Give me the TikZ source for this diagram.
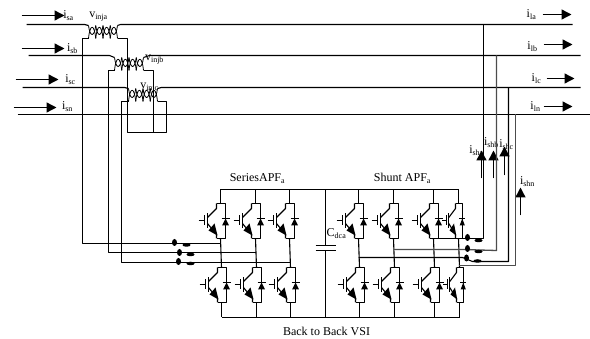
\documentclass[tikz,border=0pt]{standalone}
\usepackage{fontspec}
\setmainfont{Liberation Serif}
\usetikzlibrary{arrows.meta,shapes.geometric}
\tikzstyle{every picture}+=[x=1pt,y=-1pt]
\tikzstyle{every picture}+=[join=round]
\tikzstyle{every picture}+=[cap=butt]
\tikzstyle{every picture}+=[line width=1pt]
\tikzstyle{every picture}+=[>={Triangle[length=10pt,width=10pt]}]
\tikzstyle{wire}=[draw=black,line width=1.1pt]
\tikzstyle{greywire}=[draw=black!70,line width=1.3pt]
\tikzstyle{turn}=[draw=black,line width=.8pt]
\tikzstyle{flow}=[draw=black,line width=1.4pt,->]
\tikzstyle{lbl}=[inner sep=0pt,font=\fontsize{12}{14}\selectfont]
\tikzstyle{blob}=[fill=black,draw=none,ellipse]
\newcommand{\cur}[2]{#1\textsubscript{#2}}
\tikzset{
  igbt/.pic={
    \coordinate (-t) at (0,0);
    \coordinate (-b) at (0,35);
    \draw[wire] (-4,0) -- (5,0) -- (5,35) -- (-4,35);
    \draw[wire] (-4,0) -- (-4,5) -- (-13,14);
    \draw[wire] (-13,20) -- (-4,31) -- (-4,35);
    \draw[wire,line width=1.3pt] (-13,10) -- (-13,25);
    \draw[wire,line width=1.1pt] (-16,12) -- (-16,22);
    \draw[wire] (-22,17) -- (-16,17);
    \fill (-3,32) -- (-12,27) -- (-6,20) -- cycle;
    \fill (5,15) -- (1.5,22) -- (8.5,22) -- cycle;
    \draw[wire] (1,15) -- (9,15);
  },
  coil/.pic={
    \coordinate (-p1) at (0,-5);
    \coordinate (-p2) at (29,-5);
    \coordinate (-s1) at (0,8);
    \coordinate (-s2) at (29,8);
    \foreach \k in {0,1,2,3} {
      \draw[turn] (\k*7.25,-5) .. controls (\k*7.25+1.5,7) and (\k*7.25+5.75,7) .. (\k*7.25+7.25,-5);
      \draw[turn] (\k*7.25,8) .. controls (\k*7.25+1.5,-7) and (\k*7.25+5.75,-7) .. (\k*7.25+7.25,8);
    }
  }
}
\begin{document}
\begin{tikzpicture}[shift={(.5,.5)}]
\useasboundingbox (-.5,-.5) rectangle (589.5,338.5);

% labels on the mains side
\node[lbl] (vic) at (149,87) {\cur{v}{injc}};
\node[lbl] (isa) at (68,15) {\cur{i}{sa}};
\node[lbl] (isb) at (72,48) {\cur{i}{sb}};
\node[lbl] (isc) at (70,79) {\cur{i}{sc}};
\node[lbl] (isn) at (67,106) {\cur{i}{sn}};
\node[lbl] (via) at (98,16) {\cur{v}{inja}};
\node[lbl] (vib) at (154,59) {\cur{v}{injb}};

% labels on the load side
\node[lbl] (ila) at (531,14) {\cur{i}{la}};
\node[lbl] (ilb) at (532,46) {\cur{i}{lb}};
\node[lbl] (ilc) at (536,78) {\cur{i}{lc}};
\node[lbl] (iln) at (535,106) {\cur{i}{ln}};
\node[lbl] (isha) at (476,150) {\cur{i}{sha}};
\node[lbl] (ishb) at (491,142) {\cur{i}{shb}};
\node[lbl] (ishc) at (506,144) {\cur{i}{shc}};
\node[lbl] (ishn) at (527,181) {\cur{i}{shn}};

\node[lbl] (apfs) at (257,178) {\cur{SeriesAPF}{a}};
\node[lbl] (apfp) at (402,178) {\cur{Shunt APF}{a}};
\node[lbl] (cdc) at (336,233) {\cur{C}{dca}};
\node[lbl] (vsi) at (326,331) {Back to Back VSI};

% current arrows
\foreach \n/\xa/\ya/\xb/\yb in {fa/21/15/64/15,fb/21/48/64/48,fc/15/79/58/79,fd/13/107/56/107,
    fe/542/14/571/14,ff/543/44/572/44,fg/546/78/574/78,fh/543/106/572/106,
    fi/481/178/481/150,fj/493/178/493/150,fk/504/175/504/146,fl/520/215/520/187} {
  \coordinate (\n s) at (\xa,\ya);
  \coordinate (\n e) at (\xb,\yb);
  \draw[flow] (\n s) -- (\n e);
}

% injection transformers
\pic (ta) at (88,30) {coil};
\pic (tb) at (114,62) {coil};
\pic (tc) at (128,93) {coil};

\coordinate (la) at (26,24);
\coordinate (ra) at (572,24);
\coordinate (lb) at (28,55);
\coordinate (rb) at (580,55);
\coordinate (lc) at (22,87);
\coordinate (rc) at (580,87);
\coordinate (ln) at (17,114);
\coordinate (rn) at (590,114);

\draw[wire] (la) -- (84,24) -- (ta-p1);
\draw[wire] (ta-p2) -- (120,24) -- (ra);
\draw[wire] (lb) -- (109,55) -- (tb-p1);
\draw[wire] (tb-p2) -- (149,55) -- (rb);
\draw[wire] (lc) -- (124,87) -- (tc-p1);
\draw[wire] (tc-p2) -- (161,87) -- (rc);
\draw[wire] (ln) -- (rn);

\coordinate (ba) at (127,132);
\coordinate (bb) at (153,132);
\coordinate (bc) at (166,132);
\draw[wire] (ta-s2) -- (120,38) -- (127,38) -- (ba) -- (bb) -- (bc) -- (166,101) -- (160,101) -- (tc-s2);
\draw[wire] (tb-s2) -- (146,70) -- (153,70) -- (bb);

% bridge legs
\coordinate (rtl) at (220,189);
\coordinate (rtr) at (458,189);
\coordinate (rbl) at (221,317);
\coordinate (rbr) at (459,317);
\draw[wire] (rtl) -- (rtr);
\draw[wire] (rbl) -- (rbr);
\foreach \n/\x/\s in {sa/220/1,sb/255/1,sc/289/1,pa/358/1,pb/393/1,pc/433/1,pd/458/.75} {
  \pic[xscale=\s] (\n-u) at (\x,203) {igbt};
  \pic[xscale=\s] (\n-l) at (\x+1,267) {igbt};
  \draw[wire] (\n-u-t |- rtl) -- (\n-u-t);
  \draw[wire] (\n-u-b) -- (\n-l-t);
  \draw[wire] (\n-l-b) -- (\n-l-b |- rbl);
}

% dc link
\coordinate (ca) at (325,245);
\coordinate (cb) at (325,250);
\draw[wire] (ca |- rtl) -- (ca);
\draw[wire] (cb) -- (cb |- rbl);
\draw[wire,line width=1.2pt] (315,245) -- (335,245);
\draw[wire,line width=1.2pt] (315,250) -- (335,250);

% series side wires
\coordinate (wa) at (82,38);
\coordinate (wb) at (108,70);
\coordinate (wc) at (121,101);
\draw[wire] (ta-s1) -- (85,38) -- (wa) -- (82,243) -- (sa-u-b |- 0,243);
\draw[wire] (tb-s1) -- (111,70) -- (wb) -- (108,252) -- (sb-u-b |- 0,252);
\draw[wire] (tc-s1) -- (125,101) -- (wc) -- (121,262) -- (sc-u-b |- 0,262);
\foreach \n/\xa/\ya/\xb/\yb in {ga/174/242/186/244.5,gb/179/252/190/254,gc/178/261/190/263} {
  \node[blob,minimum width=5pt,minimum height=7pt,inner sep=0pt] (\n l) at (\xa,\ya) {};
  \node[blob,minimum width=8pt,minimum height=3.5pt,inner sep=0pt] (\n r) at (\xb,\yb) {};
}

% shunt side wires
\coordinate (xa) at (483,24);
\coordinate (xb) at (496,55);
\coordinate (xc) at (508,87);
\coordinate (xd) at (515,114);
\draw[wire] (xa) -- (483,238) -- (pc-u-b |- 0,238);
\draw[greywire] (xb) -- (496,250) -- (462,249) -- (pb-u-b |- 0,249);
\draw[wire] (xc) -- (508,261) -- (472,261) -- (462,257) -- (pa-u-b |- 0,257);
\draw[greywire] (xd) -- (515,265) -- (pd-u-b |- 0,265);
\foreach \n/\xa/\ya/\xb/\yb in {ha/467/237/478/240,hb/467/248/478/251,hc/466/257.5/477/260.5} {
  \node[blob,minimum width=5pt,minimum height=7pt,inner sep=0pt] (\n l) at (\xa,\ya) {};
  \node[blob,minimum width=8pt,minimum height=3.5pt,inner sep=0pt] (\n r) at (\xb,\yb) {};
}
\end{tikzpicture}
\end{document}
